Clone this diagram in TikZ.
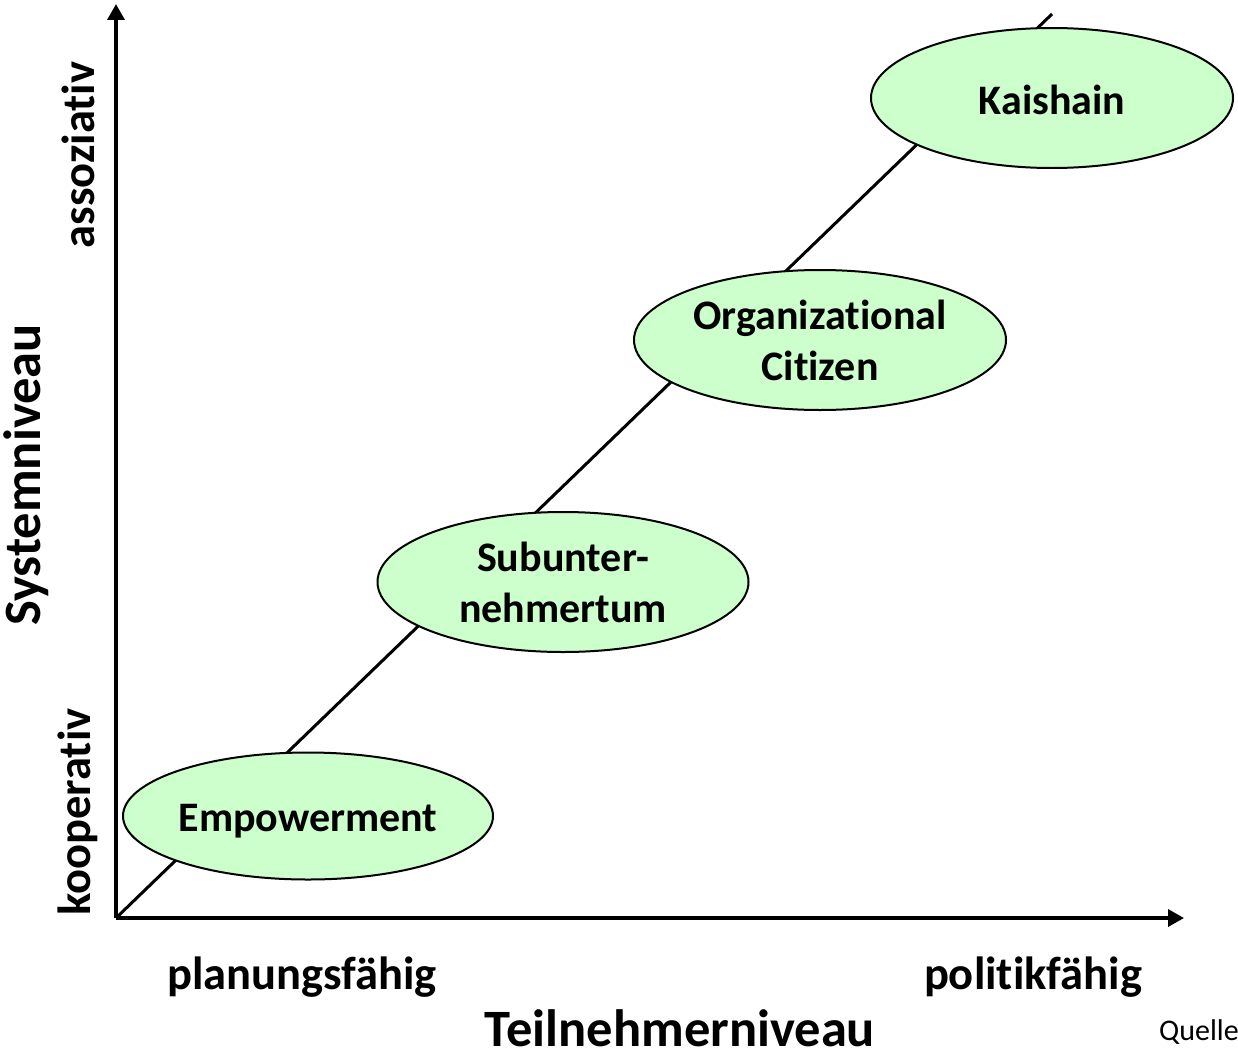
\documentclass[tikz,border=0pt]{standalone}
\usepackage{fontspec}
\setmainfont{Carlito}[RawFeature={-liga,-dlig,-clig}]
\usetikzlibrary{arrows.meta,shapes.geometric}
\definecolor{stagefill}{HTML}{CCFFCC}
\newcommand{\lowered}[2]{\raisebox{-#1}[\height][\depth]{#2}}
\begin{document}
\begin{tikzpicture}[x=1pt,y=-1pt,
  axis/.style={line width=3.5pt,-{Triangle[width=17pt,length=16pt]}},
  trend/.style={line width=3pt},
  stage/.style={ellipse,draw=black,line width=2pt,fill=stagefill,inner sep=0pt,
    align=center,font=\fontsize{42}{51}\selectfont\bfseries},
  ticklabel/.style={font=\fontsize{46.5}{55}\selectfont\bfseries,inner sep=0pt},
  axislabel/.style={font=\fontsize{52.5}{60}\selectfont\bfseries,inner sep=0pt}]
\useasboundingbox (0,0) rectangle (1238,1049);

% axes and trend line
\coordinate (O) at (116,918);
\coordinate (ytop) at (116,4);
\coordinate (xend) at (1184,918);
\coordinate (tend) at (1052,14);
\draw[trend] (O) -- (tend);
\draw[axis] (O) -- (ytop);
\draw[axis] (O) -- (xend);

% stages along the trend line
\node[stage,minimum width=370pt,minimum height=127pt] (emp) at (308,816) {\lowered{5pt}{Empowerment}};
\node[stage,minimum width=371pt,minimum height=140pt] (sub) at (563,582) {Subunter-\\nehmertum};
\node[stage,minimum width=372pt,minimum height=140pt] (org) at (820,340) {Organizational\\Citizen};
\node[stage,minimum width=362pt,minimum height=140pt] (kai) at (1052,98) {\lowered{2pt}{Kaishain}};

% axis labels
\node[ticklabel,rotate=90] (koop) at (78,812) {kooperativ};
\node[ticklabel,rotate=90] (asso) at (78,155) {assoziativ};
\node[axislabel,rotate=90] (sys) at (26,475) {Systemniveau};
\node[ticklabel] (plan) at (302,977) {planungsfähig};
\node[ticklabel] (pol) at (1033,977) {politikfähig};
\node[axislabel] (teil) at (680,1028) {Teilnehmerniveau};
\node[anchor=base west,inner sep=0pt,font=\fontsize{30}{36}\selectfont] (src) at (1159,1040) {Quelle};
\end{tikzpicture}
\end{document}
